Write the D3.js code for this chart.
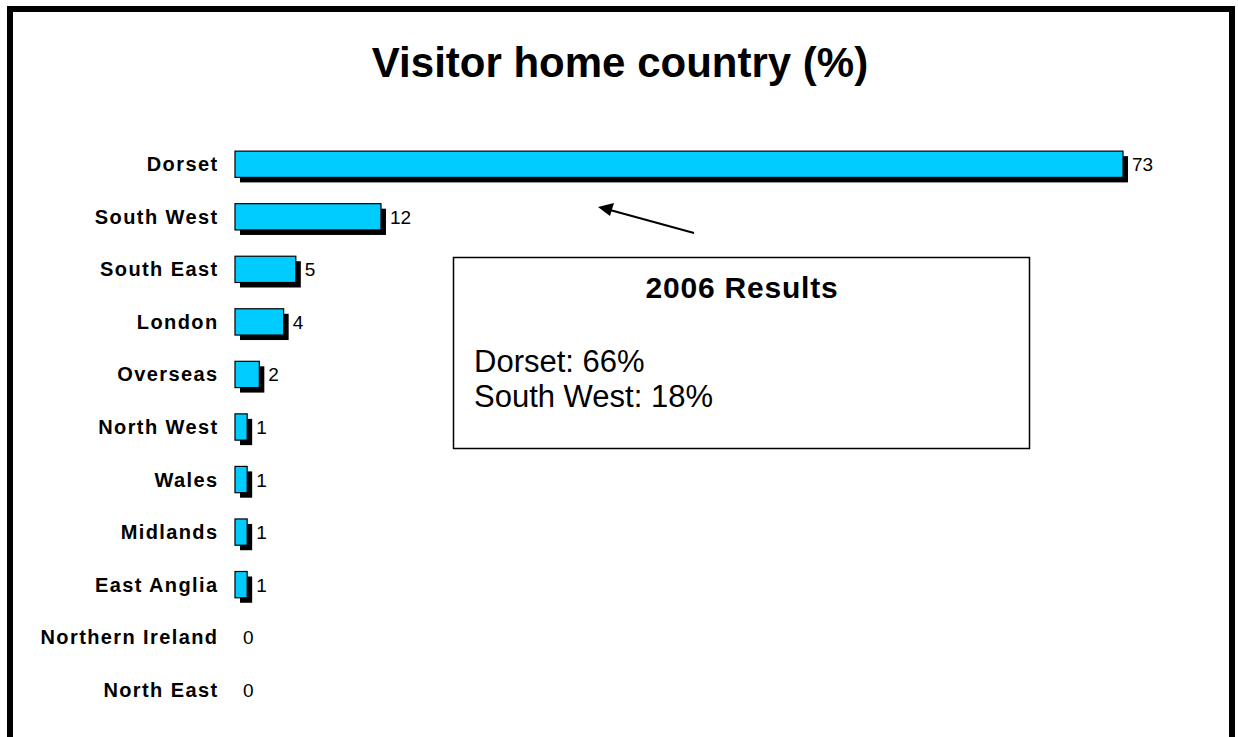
<!DOCTYPE html>
<html>
<head>
<meta charset="utf-8">
<script src="https://cdn.jsdelivr.net/npm/d3@7"></script>
<style>
  body { margin: 0; background: #fff; }
  svg { display: block; font-family: "Liberation Sans", Arial, sans-serif; }
</style>
</head>
<body>
<svg id="chart" width="1238" height="737"></svg>
<script>
// chart data
var categories = ["Dorset", "South West", "South East", "London", "Overseas", "North West",
  "Wales", "Midlands", "East Anglia", "Northern Ireland", "North East"];
var values = [73, 12, 5, 4, 2, 1, 1, 1, 1, 0, 0];
var chartTitle = "Visitor home country (%)";
var boxTitle = "2006 Results";
var boxLines = ["Dorset: 66%", "South West: 18%"];

var svg = d3.select("#chart");

// outer frame (bottom edge runs off the picture)
svg.append("rect")
  .attr("x", 10).attr("y", 9)
  .attr("width", 1222).attr("height", 760)
  .attr("fill", "#fff")
  .attr("stroke", "#000")
  .attr("stroke-width", 6);

svg.append("text")
  .attr("x", 620).attr("y", 77)
  .attr("text-anchor", "middle")
  .attr("font-size", 42).attr("font-weight", "bold")
  .text(chartTitle);

var x = d3.scaleLinear().domain([0, 73]).range([235, 1123]);
var y = d3.scaleBand().domain(categories).range([138, 716]).paddingInner(0.5).paddingOuter(0.25);

var shadow = 5;
var rows = svg.append("g").selectAll("g")
  .data(categories).enter().append("g");

// shadow
rows.filter(function(d, i) { return values[i] > 0; })
  .append("rect")
  .attr("x", x(0) + shadow)
  .attr("y", function(d) { return y(d) + shadow; })
  .attr("width", function(d, i) { return x(values[i]) - x(0); })
  .attr("height", y.bandwidth())
  .attr("fill", "#000");

rows.filter(function(d, i) { return values[i] > 0; })
  .append("rect")
  .attr("x", x(0))
  .attr("y", function(d) { return y(d); })
  .attr("width", function(d, i) { return x(values[i]) - x(0); })
  .attr("height", y.bandwidth())
  .attr("fill", "#00ccff")
  .attr("stroke", "#000")
  .attr("stroke-width", 1.2);

// category labels
rows.append("text")
  .attr("x", 218.5)
  .attr("y", function(d) { return y(d) + y.bandwidth() / 2 + 7; })
  .attr("text-anchor", "end")
  .attr("font-size", 20).attr("font-weight", "bold")
  .attr("letter-spacing", 1.4)
  .text(function(d) { return d; });

// value labels
rows.append("text")
  .attr("x", function(d, i) { return x(values[i]) + (values[i] > 0 ? 9 : 8); })
  .attr("y", function(d) { return y(d) + y.bandwidth() / 2 + 7; })
  .attr("font-size", 19)
  .text(function(d, i) { return values[i]; });

// arrow pointing at the bars
svg.append("line")
  .attr("x1", 694).attr("y1", 233)
  .attr("x2", 610).attr("y2", 210)
  .attr("stroke", "#000").attr("stroke-width", 2);
svg.append("path")
  .attr("d", "M598,207 L614,203 L610,216 Z")
  .attr("fill", "#000");

// 2006 results box
svg.append("rect")
  .attr("x", 453.5).attr("y", 257.5)
  .attr("width", 576).attr("height", 191)
  .attr("fill", "#fff").attr("stroke", "#000").attr("stroke-width", 1.5);
svg.append("text")
  .attr("x", 742).attr("y", 298)
  .attr("text-anchor", "middle")
  .attr("font-size", 30).attr("font-weight", "bold")
  .attr("letter-spacing", 0.8)
  .text(boxTitle);
svg.append("g").selectAll("text")
  .data(boxLines).enter().append("text")
  .attr("x", 474)
  .attr("y", function(d, i) { return 372 + i * 35; })
  .attr("font-size", 31)
  .text(function(d) { return d; });
</script>
</body>
</html>
